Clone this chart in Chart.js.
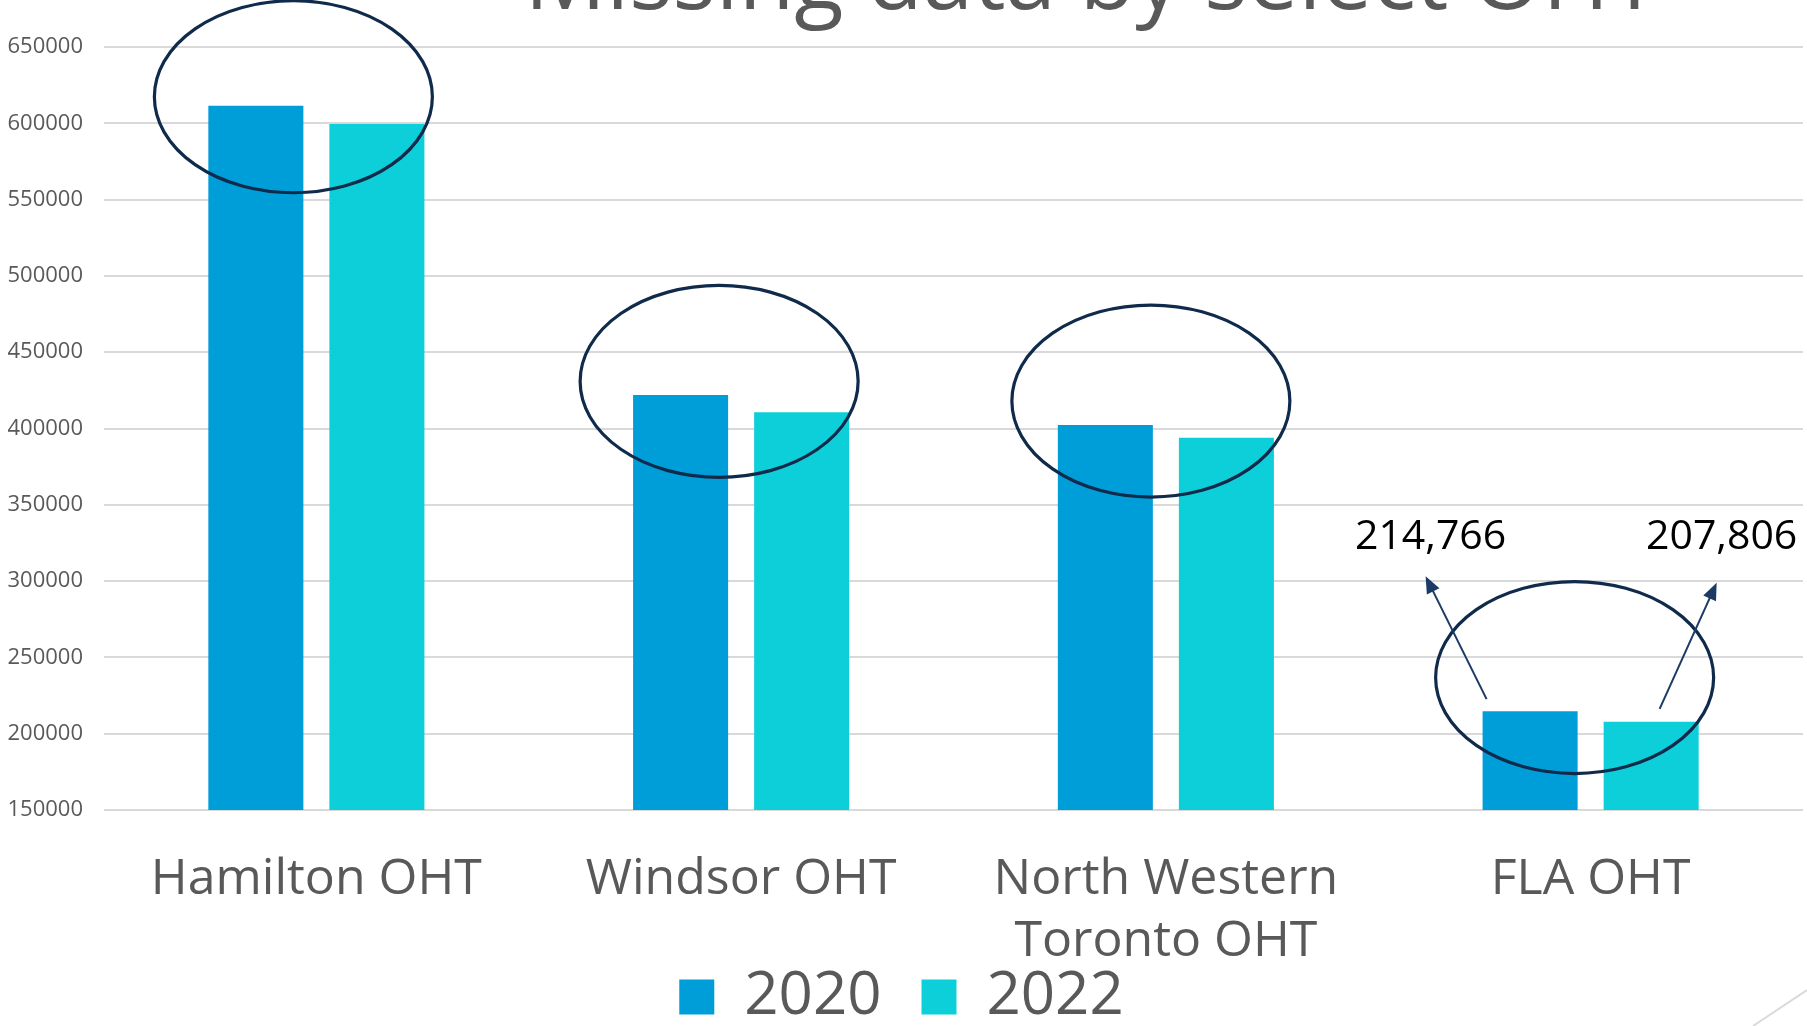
<!DOCTYPE html>
<html><head><meta charset="utf-8">
<script src="https://cdn.jsdelivr.net/npm/chart.js@4.4.1/dist/chart.umd.min.js"></script>
<style>
html,body{margin:0;padding:0;background:#fff;overflow:hidden;width:1807px;height:1026px}
#wrap{position:absolute;left:0;top:0;width:1807px;height:1037px}
</style></head><body><div id="wrap"><canvas id="c" width="1807" height="1037"></canvas></div>
<script>
const titleText = "Missing data by select OHT";
const categories = [["Hamilton OHT"], ["Windsor OHT"], ["North Western", "Toronto OHT"], ["FLA OHT"]];
const seriesNames = ["2020", "2022"];
const values2020 = [611500, 422000, 402300, 214766];
const values2022 = [599500, 410600, 394000, 207806];
const yMin = 150000, yMax = 650000, yStep = 50000;
// highlight ellipse centres (data units) per category
const highlightCenters = [617400, 430900, 418000, 236800];
const calloutCategory = 3;

const FONT = "'Open Sans', 'Noto Sans', sans-serif";
const ellipseDx = [-23, -22, -15, -16];

const annotPlugin = {
  id: 'annot',
  afterDatasetsDraw(chart) {
    const ctx = chart.ctx, xs = chart.scales.x, ys = chart.scales.y;
    ctx.save();
    ctx.strokeStyle = '#0f2a4b';
    ctx.lineWidth = 3.2;
    highlightCenters.forEach((v, i) => {
      const cx = xs.getPixelForValue(i) + ellipseDx[i];
      const cy = ys.getPixelForValue(v);
      ctx.beginPath();
      ctx.ellipse(cx, cy, 139, 96, 0, 0, Math.PI * 2);
      ctx.stroke();
    });
    const b0 = chart.getDatasetMeta(0).data[calloutCategory];
    const b1 = chart.getDatasetMeta(1).data[calloutCategory];
    const arrows = [
      {sx: b0.x - 43.5, sy: b0.y - 12, dx: -61, dy: -123, text: values2020[calloutCategory]},
      {sx: b1.x + 8.5, sy: b1.y - 13, dx: 57, dy: -126, text: values2022[calloutCategory]}
    ];
    ctx.strokeStyle = '#1b3a66';
    ctx.fillStyle = '#1b3a66';
    ctx.lineWidth = 2;
    let labelY = Infinity;
    arrows.forEach(a => {
      const tx = a.sx + a.dx, ty = a.sy + a.dy;
      const len = Math.hypot(a.dx, a.dy);
      const ux = a.dx / len, uy = a.dy / len;
      const hl = 17, hw = 7;
      ctx.beginPath();
      ctx.moveTo(a.sx, a.sy);
      ctx.lineTo(tx - ux * hl * 0.8, ty - uy * hl * 0.8);
      ctx.stroke();
      ctx.beginPath();
      ctx.moveTo(tx, ty);
      ctx.lineTo(tx - ux * hl - uy * hw, ty - uy * hl + ux * hw);
      ctx.lineTo(tx - ux * hl + uy * hw, ty - uy * hl - ux * hw);
      ctx.closePath();
      ctx.fill();
      a.tx = tx; a.ty = ty;
      labelY = Math.min(labelY, ty);
    });
    ctx.fillStyle = '#000000';
    ctx.font = '41px ' + FONT;
    ctx.textAlign = 'center';
    ctx.textBaseline = 'alphabetic';
    arrows.forEach(a => {
      ctx.fillText(a.text.toLocaleString('en-US'), a.tx + 5, labelY - 27);
    });
    ctx.restore();
  },
  afterDraw(chart) {
    const ctx = chart.ctx;
    ctx.save();
    ctx.font = '100px ' + FONT;
    const w = ctx.measureText(titleText).width;
    const size = 100 * 1135 / w;
    ctx.font = size.toFixed(1) + 'px ' + FONT;
    ctx.fillStyle = '#595959';
    ctx.textAlign = 'center';
    ctx.textBaseline = 'alphabetic';
    ctx.fillText(titleText, 1092, 9);
    ctx.strokeStyle = '#d9d9d9';
    ctx.lineWidth = 2;
    ctx.beginPath();
    ctx.moveTo(1753, 1026);
    ctx.lineTo(1807, 990);
    ctx.stroke();
    ctx.restore();
  }
};

new Chart(document.getElementById('c'), {
  type: 'bar',
  data: {
    labels: categories,
    datasets: [
      {label: seriesNames[0], data: values2020, backgroundColor: '#009ED8', categoryPercentage: 0.57, barPercentage: 0.785},
      {label: seriesNames[1], data: values2022, backgroundColor: '#0DCFD9', categoryPercentage: 0.57, barPercentage: 0.785}
    ]
  },
  options: {
    responsive: false,
    animation: false,
    devicePixelRatio: 1,
    layout: {padding: {top: 47, left: 0, right: 4, bottom: 0}},
    plugins: {
      legend: {
        position: 'bottom',
        labels: {boxWidth: 35, boxHeight: 35, padding: 40, color: '#595959', font: {family: FONT, size: 60}}
      },
      tooltip: {enabled: false},
      title: {display: false}
    },
    scales: {
      x: {
        grid: {display: false, drawTicks: false},
        border: {display: false},
        ticks: {color: '#595959', font: {family: FONT, size: 50, lineHeight: 1.24}, padding: 39, maxRotation: 0, autoSkip: false},
        afterFit(s) {
          s.height = 117; s.paddingLeft = 0; s.paddingRight = 0;
          s._computeLabelArea = function () { return undefined; };
        }
      },
      y: {
        min: yMin, max: yMax,
        grid: {color: '#d9d9d9', lineWidth: 2, drawTicks: false},
        border: {display: false},
        ticks: {stepSize: yStep, color: '#595959', font: {family: FONT, size: 22}, padding: 21, callback: v => String(v)},
        afterFit(s) { s.width = 104; s.paddingTop = 0; s.paddingBottom = 0; }
      }
    }
  },
  plugins: [annotPlugin]
});
</script>
</body></html>
